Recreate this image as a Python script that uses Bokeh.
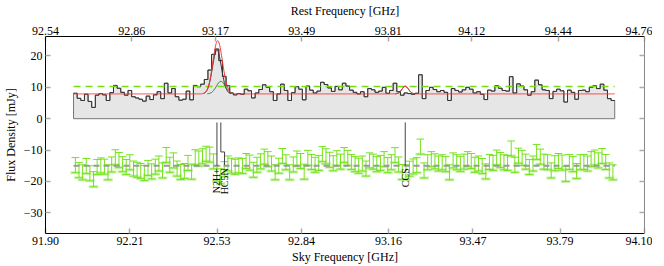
import numpy as np
from bokeh.plotting import figure
from bokeh.models import Range1d, LinearAxis, FixedTicker, PrintfTickFormatter
from bokeh.core.properties import value
from bokeh.embed import file_html
from bokeh.resources import INLINE

# ---------------- data ----------------
sky_ticks = [91.90, 92.21, 92.53, 92.84, 93.16, 93.47, 93.79, 94.10]
rest_ticks = [92.54, 92.86, 93.17, 93.49, 93.81, 94.12, 94.44, 94.76]
flux_ticks = [-30, -20, -10, 0, 10, 20]

redshift = 0.00696
chan_start = 92.003      # sky GHz, left edge of first channel
chan_width = 0.01334     # GHz

flux = [
    8.1, 6.5, 5.8, 7.8, 5.5, 3.6, 7.5, 8.0, 7.6, 5.8,
    8.3, 10.6, 9.7, 8.4, 7.5, 9.0, 7.0, 6.6, 6.2, 5.6,
    7.2, 6.1, 7.6, 8.6, 6.4, 11.3, 8.2, 9.6, 7.0, 5.9,
    6.2, 8.8, 6.0, 10.6, 10.2, 11.0, 12.5, 15.5, 20.5, 22.2,
    18.5, 13.5, 10.5, 8.2, 7.6, 8.0, 7.8, 9.4, 8.9, 6.6,
    8.2, 9.3, 10.8, 10.0, 8.6, 5.8, 7.9, 11.0, 9.0, 5.8,
    8.3, 10.2, 9.4, 6.0, 10.4, 9.1, 8.2, 8.8, 11.6, 10.9,
    9.8, 8.7, 10.3, 9.2, 11.3, 10.4, 9.1, 8.4, 7.9, 8.6,
    7.0, 9.6, 9.2, 8.4, 8.8, 10.0, 8.1, 9.0, 11.3, 8.6,
    7.5, 8.2, 8.0, 7.8, 8.1, 14.0, 6.4, 9.0, 10.0, 9.3,
    8.6, 9.0, 8.4, 5.8, 9.6, 9.0, 8.5, 9.2, 10.0, 9.4,
    8.2, 8.6, 7.8, 6.1, 9.1, 8.8, 10.5, 9.7, 9.0, 8.8,
    13.4, 8.2, 11.1, 10.4, 9.2, 7.5, 8.6, 12.3, 10.8, 9.2,
    9.0, 6.4, 8.7, 9.4, 8.9, 5.3, 9.1, 8.4, 6.2, 9.0,
    9.1, 8.6, 10.0, 10.5, 9.6, 11.0, 9.1, 6.4, 5.8,
]

continuum = 7.9
rms = 2.4
line_names = ["N2H+", "HC5N", "CCS"]
line_rest = [93.1737, 93.1881, 93.8701]
line_amp = [14.0, 4.0, 2.45]
line_sigma = [0.0165, 0.0165, 0.012]
comp_colors = ["#333333", "#2f6f2f", "#333333"]
resid_offset = -15.0

# ---------------- derived ----------------
flux = np.array(flux)
n = len(flux)
edges = chan_start + chan_width * np.arange(n + 1)
centers = 0.5 * (edges[:-1] + edges[1:])
line_sky = [f / (1 + redshift) for f in line_rest]


def model(x):
    m = np.full_like(x, continuum, dtype=float)
    for c, a, s in zip(line_sky, line_amp, line_sigma):
        m += a * np.exp(-0.5 * ((x - c) / s) ** 2)
    return m


xs = np.repeat(edges, 2)[1:-1]
ys = np.repeat(flux, 2)

p = figure(frame_width=599, frame_height=197,
           x_range=Range1d(sky_ticks[0], sky_ticks[-1]), y_range=Range1d(-36.6, 26.2),
           output_backend="svg", toolbar_location=None,
           min_border_left=40, min_border_right=8, min_border_top=30, min_border_bottom=0,
           x_axis_label="Sky Frequency [GHz]", y_axis_label="Flux Density [mJy]")
p.outline_line_color = None
p.grid.visible = False
p.background_fill_color = "white"

p.extra_x_ranges = {"rest": Range1d(rest_ticks[0], rest_ticks[-1])}
top = LinearAxis(x_range_name="rest", axis_label="Rest Frequency [GHz]")
p.add_layout(top, "above")
right = LinearAxis()
p.add_layout(right, "right")

bottom = p.below[0]
left = p.left[0]
bottom.ticker = FixedTicker(ticks=sky_ticks)
top.ticker = FixedTicker(ticks=rest_ticks)
bottom.formatter = PrintfTickFormatter(format="%.2f")
top.formatter = PrintfTickFormatter(format="%.2f")
left.ticker = FixedTicker(ticks=flux_ticks)
right.ticker = FixedTicker(ticks=flux_ticks)
left.major_label_overrides = {t: (("\u2212" + str(-t)) if t < 0 else str(t)) for t in flux_ticks}
right.major_label_overrides = {t: "" for t in flux_ticks}

for ax in (bottom, top, left, right):
    ax.major_tick_in = 5
    ax.major_tick_out = 0
    ax.minor_tick_line_color = None
    ax.major_tick_line_color = "#aaaaaa"
    ax.major_tick_line_width = 1.5
    ax.axis_line_color = "black"
    ax.major_label_text_font = "Liberation Serif"
    ax.major_label_text_font_size = "12px"
    ax.major_label_text_color = "black"
    ax.axis_label_text_font = "Liberation Serif"
    ax.axis_label_text_font_size = "12px"
    ax.axis_label_text_font_style = "normal"
    ax.axis_label_text_color = "black"
    ax.axis_label_standoff = 2
    ax.major_label_standoff = 3
top.axis_label_standoff = 6
top.major_label_standoff = 2
left.axis_label_standoff = 3
right.major_label_text_font_size = "1px"
right.major_label_standoff = 0
right.axis_line_color = "#888888"

# filled spectrum
px = np.concatenate([[edges[0]], xs, [edges[-1]]])
py = np.concatenate([[0.0], ys, [0.0]])
p.patch(px, py, fill_color="#e6e6e6", line_color="#777777", line_width=1)
p.line(xs, ys, line_color="#333333", line_width=1)

# rms level
p.line([edges[0], edges[-1]], [continuum + rms, continuum + rms],
       line_color="#77dd11", line_width=1.5, line_dash="7 5")

# components
for c, a, s, col in zip(line_sky, line_amp, line_sigma, comp_colors):
    xx = np.linspace(c - 3 * s, c + 3 * s, 80)
    p.line(xx, continuum + a * np.exp(-0.5 * ((xx - c) / s) ** 2), line_color=col, line_width=1)

# full model
xf = np.linspace(edges[0], edges[-1], 1500)
p.line(xf, model(xf), line_color="#ff3333", line_width=1)

# residuals
res = flux - model(centers)
ry = resid_offset + res
cap = 0.014
p.segment(centers - 0.018, ry - rms, centers + 0.018, ry - rms, line_color="#cdf3b0", line_width=3)
p.segment(centers, ry - rms, centers, ry + rms, line_color="#74e31c", line_width=1)
p.segment(centers - cap, ry - rms, centers + cap, ry - rms, line_color="#74e31c", line_width=1)
p.segment(centers - cap, ry + rms, centers + cap, ry + rms, line_color="#74e31c", line_width=1)
p.line([edges[0], edges[-1]], [resid_offset, resid_offset],
       line_color="#999999", line_width=2, line_dash="6 4")

# line identification markers
jog = [0.0, 0.0136, 0.0]
for name, xsky, dx in zip(line_names, line_sky, jog):
    if dx == 0:
        p.line([xsky, xsky], [-1.2, -15.0], line_color="#444444", line_width=1)
    else:
        p.line([xsky, xsky, xsky + dx, xsky + dx], [-1.2, -10.6, -10.6, -14.8],
               line_color="#444444", line_width=1)
    p.text(x=[xsky + dx], y=[-15.8], text=[name], angle=np.pi / 2,
           text_align="right", text_baseline="middle",
           text_font=value("Liberation Serif"), text_font_size="10px", text_color="black")

open("out.html", "w").write(file_html(p, INLINE))
